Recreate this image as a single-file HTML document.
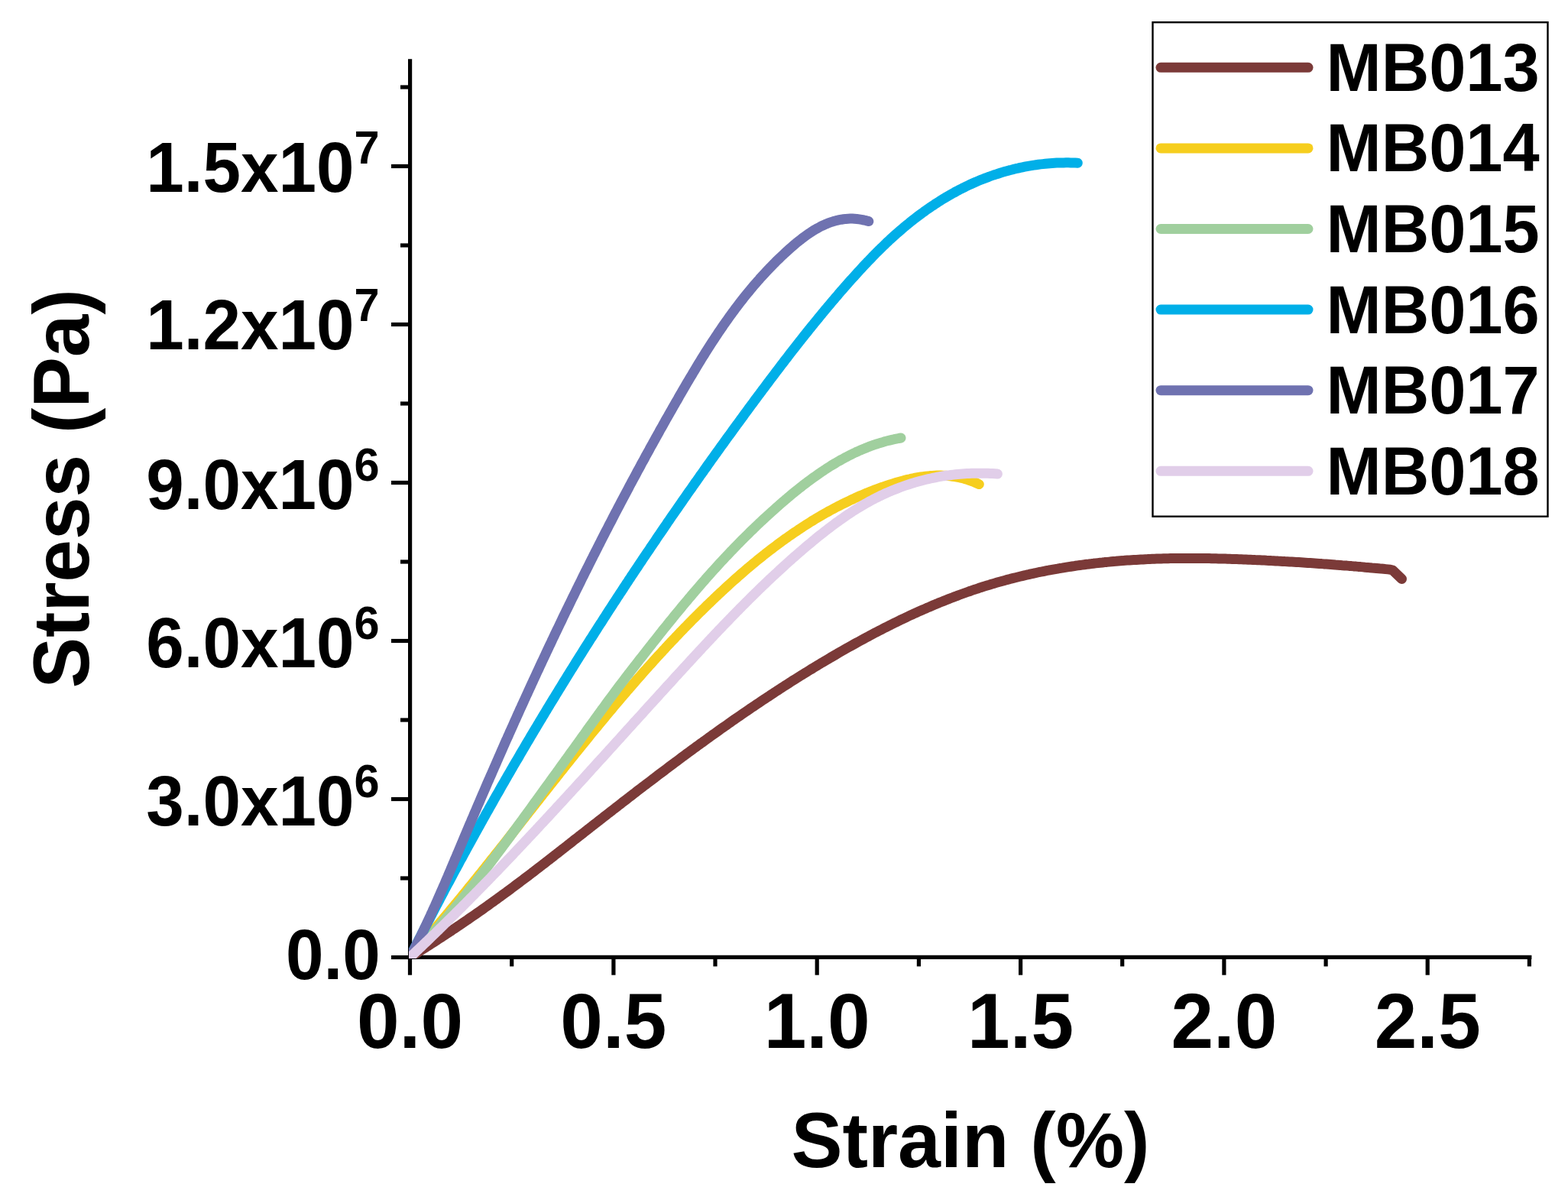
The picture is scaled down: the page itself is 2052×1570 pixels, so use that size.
<!DOCTYPE html>
<html><head><meta charset="utf-8"><style>
html,body{margin:0;padding:0;background:#fff;}
svg{display:block;}
text{font-family:"Liberation Sans",Arial,sans-serif;font-weight:bold;fill:#000;}
</style></head><body>
<svg width="2052" height="1570" viewBox="0 0 2052 1570">
<rect width="2052" height="1570" fill="#fff"/>
<defs><clipPath id="pc"><rect x="535" y="60" width="1480" height="1194"/></clipPath></defs>
<g stroke="#000" stroke-linecap="butt">
<line x1="536.6" y1="77.2" x2="536.6" y2="1255" stroke-width="5.2"/>
<line x1="534" y1="1252.4" x2="2004.4" y2="1252.4" stroke-width="5.2"/>
<line x1="512.0" y1="1252.5" x2="536" y2="1252.5" stroke-width="5.2"/>
<line x1="524.0" y1="1149.0" x2="536" y2="1149.0" stroke-width="5.2"/>
<line x1="512.0" y1="1045.5" x2="536" y2="1045.5" stroke-width="5.2"/>
<line x1="524.0" y1="942.0" x2="536" y2="942.0" stroke-width="5.2"/>
<line x1="512.0" y1="838.5" x2="536" y2="838.5" stroke-width="5.2"/>
<line x1="524.0" y1="735.0" x2="536" y2="735.0" stroke-width="5.2"/>
<line x1="512.0" y1="631.5" x2="536" y2="631.5" stroke-width="5.2"/>
<line x1="524.0" y1="528.0" x2="536" y2="528.0" stroke-width="5.2"/>
<line x1="512.0" y1="424.5" x2="536" y2="424.5" stroke-width="5.2"/>
<line x1="524.0" y1="321.0" x2="536" y2="321.0" stroke-width="5.2"/>
<line x1="512.0" y1="217.5" x2="536" y2="217.5" stroke-width="5.2"/>
<line x1="524.0" y1="114.0" x2="536" y2="114.0" stroke-width="5.2"/>
<line x1="536.5" y1="1253" x2="536.5" y2="1275.7" stroke-width="5.2"/>
<line x1="669.7" y1="1253" x2="669.7" y2="1264.4" stroke-width="5.2"/>
<line x1="802.9" y1="1253" x2="802.9" y2="1275.7" stroke-width="5.2"/>
<line x1="936.0" y1="1253" x2="936.0" y2="1264.4" stroke-width="5.2"/>
<line x1="1069.2" y1="1253" x2="1069.2" y2="1275.7" stroke-width="5.2"/>
<line x1="1202.4" y1="1253" x2="1202.4" y2="1264.4" stroke-width="5.2"/>
<line x1="1335.6" y1="1253" x2="1335.6" y2="1275.7" stroke-width="5.2"/>
<line x1="1468.7" y1="1253" x2="1468.7" y2="1264.4" stroke-width="5.2"/>
<line x1="1601.9" y1="1253" x2="1601.9" y2="1275.7" stroke-width="5.2"/>
<line x1="1735.1" y1="1253" x2="1735.1" y2="1264.4" stroke-width="5.2"/>
<line x1="1868.2" y1="1253" x2="1868.2" y2="1275.7" stroke-width="5.2"/>
<line x1="2001.4" y1="1253" x2="2001.4" y2="1264.4" stroke-width="5.2"/>
</g>
<g clip-path="url(#pc)" fill="none" stroke-width="13" stroke-linecap="round" stroke-linejoin="round">
<path d="M536.5,1252.5 L539.0,1250.9 L541.6,1249.3 L544.1,1247.7 L546.7,1246.1 L549.2,1244.5 L551.7,1242.9 L554.2,1241.3 L556.8,1239.7 L559.3,1238.1 L561.8,1236.5 L564.3,1234.9 L566.8,1233.3 L569.3,1231.7 L571.8,1230.0 L574.3,1228.4 L576.8,1226.8 L579.3,1225.1 L581.8,1223.5 L584.3,1221.9 L586.8,1220.2 L589.3,1218.6 L591.7,1216.9 L594.2,1215.3 L596.7,1213.6 L599.2,1211.9 L601.6,1210.3 L604.1,1208.6 L606.6,1206.9 L609.0,1205.2 L611.5,1203.6 L613.9,1201.9 L616.4,1200.2 L618.8,1198.5 L621.3,1196.8 L623.7,1195.1 L626.2,1193.4 L628.6,1191.7 L631.1,1190.0 L633.5,1188.2 L635.9,1186.5 L638.4,1184.8 L640.8,1183.0 L643.2,1181.3 L645.6,1179.6 L648.1,1177.8 L650.5,1176.1 L652.9,1174.3 L655.3,1172.6 L657.7,1170.8 L660.2,1169.0 L662.6,1167.3 L665.0,1165.5 L667.4,1163.7 L669.8,1161.9 L672.2,1160.1 L674.6,1158.3 L677.0,1156.5 L679.4,1154.7 L681.8,1152.9 L684.2,1151.1 L686.6,1149.3 L689.0,1147.5 L691.4,1145.7 L693.8,1143.9 L696.2,1142.0 L698.6,1140.2 L700.9,1138.4 L703.3,1136.5 L705.7,1134.7 L708.1,1132.9 L710.5,1131.0 L712.9,1129.2 L715.2,1127.4 L717.6,1125.5 L720.0,1123.7 L722.4,1121.8 L724.8,1120.0 L727.1,1118.1 L729.5,1116.3 L731.9,1114.4 L734.2,1112.6 L736.6,1110.7 L739.0,1108.9 L741.4,1107.0 L743.7,1105.2 L746.1,1103.3 L748.5,1101.5 L750.8,1099.6 L753.2,1097.7 L755.6,1095.9 L757.9,1094.0 L760.3,1092.2 L762.7,1090.3 L765.0,1088.5 L767.4,1086.6 L769.8,1084.8 L772.1,1082.9 L774.5,1081.1 L776.8,1079.2 L779.2,1077.4 L781.6,1075.6 L783.9,1073.7 L786.3,1071.9 L788.7,1070.0 L791.0,1068.2 L793.4,1066.3 L795.7,1064.5 L798.1,1062.7 L800.5,1060.8 L802.8,1059.0 L805.2,1057.2 L807.6,1055.3 L809.9,1053.5 L812.3,1051.7 L814.6,1049.8 L817.0,1048.0 L819.4,1046.2 L821.7,1044.4 L824.1,1042.5 L826.5,1040.7 L828.8,1038.9 L831.2,1037.1 L833.6,1035.2 L835.9,1033.4 L838.3,1031.6 L840.7,1029.8 L843.0,1028.0 L845.4,1026.2 L847.8,1024.4 L850.2,1022.6 L852.5,1020.8 L854.9,1019.0 L857.3,1017.2 L859.7,1015.3 L862.0,1013.6 L864.4,1011.8 L866.8,1010.0 L869.2,1008.2 L871.6,1006.4 L873.9,1004.6 L876.3,1002.8 L878.7,1001.0 L881.1,999.2 L883.5,997.4 L885.9,995.7 L888.3,993.9 L890.6,992.1 L893.0,990.3 L895.4,988.6 L897.8,986.8 L900.2,985.0 L902.6,983.3 L905.0,981.5 L907.4,979.7 L909.8,978.0 L912.2,976.2 L914.6,974.5 L917.0,972.7 L919.5,971.0 L921.9,969.2 L924.3,967.5 L926.7,965.8 L929.1,964.0 L931.5,962.3 L933.9,960.5 L936.4,958.8 L938.8,957.1 L941.2,955.4 L943.7,953.6 L946.1,951.9 L948.5,950.2 L951.0,948.5 L953.4,946.8 L955.8,945.1 L958.3,943.3 L960.7,941.6 L963.2,939.9 L965.6,938.2 L968.1,936.5 L970.5,934.9 L973.0,933.2 L975.4,931.5 L977.9,929.8 L980.4,928.1 L982.8,926.4 L985.3,924.8 L987.8,923.1 L990.3,921.4 L992.7,919.8 L995.2,918.1 L997.7,916.4 L1000.2,914.8 L1002.7,913.1 L1005.2,911.5 L1007.7,909.8 L1010.2,908.2 L1012.7,906.5 L1015.2,904.9 L1017.7,903.3 L1020.2,901.6 L1022.7,900.0 L1025.2,898.4 L1027.7,896.8 L1030.3,895.2 L1032.8,893.5 L1035.3,891.9 L1037.8,890.3 L1040.4,888.7 L1042.9,887.1 L1045.5,885.5 L1048.0,883.9 L1050.6,882.4 L1053.1,880.8 L1055.7,879.2 L1058.2,877.6 L1060.8,876.0 L1063.4,874.5 L1065.9,872.9 L1068.5,871.4 L1071.1,869.8 L1073.7,868.2 L1076.3,866.7 L1078.9,865.1 L1081.5,863.6 L1084.1,862.1 L1086.7,860.5 L1089.3,859.0 L1091.9,857.5 L1094.5,856.0 L1097.1,854.4 L1099.7,852.9 L1102.4,851.4 L1105.0,849.9 L1107.6,848.4 L1110.3,846.9 L1112.9,845.5 L1115.6,844.0 L1118.2,842.5 L1120.9,841.0 L1123.5,839.6 L1126.2,838.1 L1128.8,836.7 L1131.5,835.2 L1134.2,833.8 L1136.9,832.4 L1139.5,830.9 L1142.2,829.5 L1144.9,828.1 L1147.6,826.7 L1150.3,825.3 L1153.0,823.9 L1155.7,822.5 L1158.4,821.1 L1161.1,819.8 L1163.8,818.4 L1166.5,817.1 L1169.2,815.7 L1172.0,814.4 L1174.7,813.1 L1177.4,811.7 L1180.1,810.4 L1182.9,809.1 L1185.6,807.8 L1188.3,806.5 L1191.1,805.2 L1193.8,804.0 L1196.6,802.7 L1199.3,801.5 L1202.1,800.2 L1204.8,799.0 L1207.6,797.8 L1210.4,796.6 L1213.1,795.3 L1215.9,794.2 L1218.7,793.0 L1221.4,791.8 L1224.2,790.6 L1227.0,789.5 L1229.8,788.3 L1232.6,787.2 L1235.4,786.1 L1238.2,785.0 L1241.0,783.9 L1243.8,782.8 L1246.6,781.7 L1249.4,780.6 L1252.2,779.6 L1255.0,778.5 L1257.8,777.5 L1260.6,776.5 L1263.4,775.5 L1266.2,774.5 L1269.1,773.5 L1271.9,772.5 L1274.7,771.5 L1277.6,770.6 L1280.4,769.7 L1283.2,768.7 L1286.1,767.8 L1288.9,766.9 L1291.8,766.0 L1294.6,765.2 L1297.5,764.3 L1300.3,763.5 L1303.2,762.6 L1306.0,761.8 L1308.9,761.0 L1311.7,760.2 L1314.6,759.4 L1317.5,758.6 L1320.3,757.9 L1323.2,757.1 L1326.1,756.4 L1328.9,755.7 L1331.8,755.0 L1334.7,754.3 L1337.6,753.6 L1340.5,752.9 L1343.4,752.2 L1346.2,751.6 L1349.1,750.9 L1352.0,750.3 L1354.9,749.7 L1357.8,749.0 L1360.7,748.4 L1363.6,747.9 L1366.5,747.3 L1369.4,746.7 L1372.3,746.2 L1375.2,745.6 L1378.1,745.1 L1381.1,744.6 L1384.0,744.1 L1386.9,743.5 L1389.8,743.1 L1392.7,742.6 L1395.6,742.1 L1398.6,741.6 L1401.5,741.2 L1404.4,740.8 L1407.3,740.3 L1410.3,739.9 L1413.2,739.5 L1416.1,739.1 L1419.1,738.7 L1422.0,738.3 L1424.9,738.0 L1427.9,737.6 L1430.8,737.3 L1433.8,736.9 L1436.7,736.6 L1439.7,736.3 L1442.6,736.0 L1445.6,735.6 L1448.5,735.4 L1451.5,735.1 L1454.4,734.8 L1457.4,734.5 L1460.3,734.3 L1463.3,734.0 L1466.2,733.8 L1469.2,733.6 L1472.2,733.3 L1475.1,733.1 L1478.1,732.9 L1481.0,732.7 L1484.0,732.5 L1487.0,732.4 L1490.0,732.2 L1492.9,732.0 L1495.9,731.9 L1498.9,731.7 L1501.8,731.6 L1504.8,731.4 L1507.8,731.3 L1510.8,731.2 L1513.7,731.1 L1516.7,731.0 L1519.7,730.9 L1522.7,730.8 L1525.7,730.8 L1528.6,730.7 L1531.6,730.6 L1534.6,730.6 L1537.6,730.5 L1540.6,730.5 L1543.6,730.5 L1546.6,730.4 L1549.5,730.4 L1552.5,730.4 L1555.5,730.4 L1558.5,730.4 L1561.5,730.4 L1564.5,730.4 L1567.5,730.4 L1570.5,730.5 L1573.5,730.5 L1576.5,730.5 L1579.5,730.6 L1582.5,730.6 L1585.5,730.7 L1588.5,730.7 L1591.5,730.8 L1594.5,730.9 L1597.5,730.9 L1600.5,731.0 L1603.5,731.1 L1606.5,731.2 L1609.5,731.3 L1612.5,731.4 L1615.5,731.5 L1618.5,731.6 L1621.5,731.7 L1624.5,731.8 L1627.5,731.9 L1630.5,732.0 L1633.5,732.2 L1636.5,732.3 L1639.5,732.4 L1642.5,732.6 L1645.5,732.7 L1648.5,732.8 L1651.5,733.0 L1654.5,733.1 L1657.5,733.3 L1660.5,733.4 L1663.5,733.6 L1666.5,733.7 L1669.5,733.9 L1672.5,734.1 L1675.5,734.2 L1678.5,734.4 L1681.5,734.6 L1684.6,734.7 L1687.6,734.9 L1690.6,735.1 L1693.6,735.3 L1696.6,735.5 L1699.6,735.6 L1702.6,735.8 L1705.6,736.0 L1708.6,736.2 L1711.6,736.4 L1714.6,736.6 L1717.6,736.8 L1720.6,737.0 L1723.6,737.2 L1726.6,737.4 L1729.6,737.6 L1732.6,737.9 L1735.6,738.1 L1738.6,738.3 L1741.6,738.5 L1744.6,738.7 L1747.6,739.0 L1750.6,739.2 L1753.6,739.4 L1756.6,739.7 L1759.6,739.9 L1762.6,740.1 L1765.6,740.4 L1768.6,740.6 L1771.6,740.9 L1774.6,741.1 L1777.6,741.4 L1780.6,741.6 L1783.6,741.9 L1786.5,742.2 L1789.5,742.4 L1792.5,742.7 L1795.5,743.0 L1798.5,743.2 L1801.5,743.5 L1804.5,743.8 L1807.5,744.1 L1810.5,744.3 L1813.4,744.6 L1816.4,744.9 L1819.4,745.2 L1822.5,746.0 L1834.5,757.5" stroke="#7B3A38"/>
<path d="M536.5,1252.5 L538.5,1250.3 L540.5,1248.0 L542.5,1245.8 L544.5,1243.5 L546.5,1241.2 L548.4,1239.0 L550.4,1236.7 L552.4,1234.5 L554.4,1232.2 L556.3,1229.9 L558.3,1227.7 L560.3,1225.4 L562.2,1223.1 L564.2,1220.8 L566.1,1218.6 L568.1,1216.3 L570.0,1214.0 L572.0,1211.7 L573.9,1209.4 L575.8,1207.1 L577.8,1204.8 L579.7,1202.5 L581.6,1200.2 L583.5,1197.9 L585.5,1195.6 L587.4,1193.3 L589.3,1191.0 L591.2,1188.7 L593.1,1186.4 L595.0,1184.1 L597.0,1181.8 L598.9,1179.5 L600.8,1177.2 L602.7,1174.9 L604.6,1172.5 L606.5,1170.2 L608.4,1167.9 L610.3,1165.6 L612.1,1163.3 L614.0,1160.9 L615.9,1158.6 L617.8,1156.3 L619.7,1154.0 L621.6,1151.6 L623.5,1149.3 L625.3,1147.0 L627.2,1144.6 L629.1,1142.3 L631.0,1140.0 L632.8,1137.6 L634.7,1135.3 L636.6,1133.0 L638.4,1130.6 L640.3,1128.3 L642.2,1125.9 L644.0,1123.6 L645.9,1121.3 L647.8,1118.9 L649.6,1116.6 L651.5,1114.2 L653.3,1111.9 L655.2,1109.5 L657.1,1107.2 L658.9,1104.9 L660.8,1102.5 L662.6,1100.2 L664.5,1097.8 L666.3,1095.5 L668.2,1093.1 L670.0,1090.8 L671.9,1088.4 L673.7,1086.1 L675.6,1083.7 L677.4,1081.4 L679.3,1079.0 L681.1,1076.7 L683.0,1074.3 L684.8,1072.0 L686.7,1069.6 L688.5,1067.3 L690.4,1064.9 L692.2,1062.6 L694.1,1060.2 L695.9,1057.9 L697.8,1055.5 L699.6,1053.2 L701.5,1050.8 L703.3,1048.5 L705.2,1046.1 L707.0,1043.8 L708.9,1041.4 L710.7,1039.1 L712.6,1036.7 L714.4,1034.4 L716.3,1032.0 L718.1,1029.7 L720.0,1027.3 L721.8,1025.0 L723.7,1022.7 L725.5,1020.3 L727.4,1018.0 L729.2,1015.6 L731.1,1013.3 L732.9,1010.9 L734.8,1008.6 L736.7,1006.3 L738.5,1003.9 L740.4,1001.6 L742.2,999.3 L744.1,996.9 L746.0,994.6 L747.8,992.3 L749.7,989.9 L751.6,987.6 L753.4,985.3 L755.3,982.9 L757.2,980.6 L759.1,978.3 L760.9,976.0 L762.8,973.6 L764.7,971.3 L766.6,969.0 L768.5,966.7 L770.3,964.4 L772.2,962.0 L774.1,959.7 L776.0,957.4 L777.9,955.1 L779.8,952.8 L781.7,950.5 L783.6,948.2 L785.5,945.9 L787.4,943.6 L789.3,941.3 L791.2,939.0 L793.1,936.7 L795.0,934.4 L796.9,932.1 L798.9,929.8 L800.8,927.5 L802.7,925.2 L804.6,922.9 L806.5,920.6 L808.5,918.4 L810.4,916.1 L812.3,913.8 L814.3,911.5 L816.2,909.3 L818.2,907.0 L820.1,904.7 L822.1,902.5 L824.0,900.2 L826.0,897.9 L827.9,895.7 L829.9,893.4 L831.9,891.2 L833.8,888.9 L835.8,886.7 L837.8,884.4 L839.8,882.2 L841.7,879.9 L843.7,877.7 L845.7,875.5 L847.7,873.2 L849.7,871.0 L851.7,868.8 L853.7,866.6 L855.7,864.3 L857.7,862.1 L859.7,859.9 L861.7,857.7 L863.8,855.5 L865.8,853.3 L867.8,851.1 L869.9,848.9 L871.9,846.7 L873.9,844.5 L876.0,842.3 L878.0,840.1 L880.1,837.9 L882.2,835.8 L884.2,833.6 L886.3,831.4 L888.4,829.2 L890.4,827.1 L892.5,824.9 L894.6,822.8 L896.7,820.6 L898.8,818.5 L900.9,816.3 L903.0,814.2 L905.1,812.0 L907.2,809.9 L909.3,807.8 L911.5,805.6 L913.6,803.5 L915.7,801.4 L917.9,799.3 L920.0,797.2 L922.2,795.1 L924.3,792.9 L926.5,790.9 L928.7,788.8 L930.8,786.7 L933.0,784.6 L935.2,782.5 L937.4,780.4 L939.6,778.4 L941.8,776.3 L944.0,774.2 L946.2,772.2 L948.4,770.1 L950.6,768.1 L952.8,766.1 L955.1,764.0 L957.3,762.0 L959.5,760.0 L961.8,758.0 L964.1,756.0 L966.3,754.0 L968.6,752.0 L970.9,750.0 L973.1,748.1 L975.4,746.1 L977.7,744.1 L980.0,742.2 L982.3,740.3 L984.6,738.3 L986.9,736.4 L989.3,734.5 L991.6,732.6 L993.9,730.7 L996.3,728.8 L998.6,726.9 L1001.0,725.1 L1003.3,723.2 L1005.7,721.4 L1008.1,719.5 L1010.5,717.7 L1012.9,715.9 L1015.3,714.1 L1017.7,712.3 L1020.1,710.5 L1022.5,708.7 L1024.9,707.0 L1027.3,705.2 L1029.8,703.5 L1032.2,701.8 L1034.7,700.1 L1037.1,698.4 L1039.6,696.7 L1042.1,695.0 L1044.6,693.3 L1047.1,691.7 L1049.6,690.0 L1052.1,688.4 L1054.6,686.8 L1057.1,685.2 L1059.6,683.6 L1062.1,682.0 L1064.7,680.5 L1067.2,678.9 L1069.8,677.4 L1072.4,675.9 L1074.9,674.4 L1077.5,672.9 L1080.1,671.4 L1082.7,670.0 L1085.3,668.5 L1087.9,667.1 L1090.5,665.7 L1093.2,664.3 L1095.8,662.9 L1098.4,661.6 L1101.1,660.2 L1103.8,658.9 L1106.4,657.6 L1109.1,656.3 L1111.8,655.0 L1114.5,653.7 L1117.2,652.5 L1119.9,651.2 L1122.6,650.0 L1125.3,648.8 L1128.1,647.6 L1130.8,646.5 L1133.6,645.3 L1136.3,644.2 L1139.1,643.1 L1141.9,642.0 L1144.7,640.9 L1147.5,639.9 L1150.3,638.9 L1153.1,637.8 L1155.9,636.9 L1158.8,635.9 L1161.6,634.9 L1164.5,634.0 L1167.3,633.1 L1170.2,632.2 L1173.1,631.3 L1176.0,630.5 L1178.8,629.7 L1181.7,628.9 L1184.7,628.1 L1187.6,627.4 L1190.5,626.8 L1193.4,626.1 L1196.3,625.5 L1199.3,625.0 L1202.2,624.5 L1205.1,624.0 L1208.1,623.6 L1211.0,623.2 L1214.0,622.9 L1216.9,622.6 L1219.8,622.4 L1222.8,622.2 L1225.7,622.1 L1228.7,622.1 L1231.6,622.1 L1234.6,622.2 L1237.5,622.3 L1240.5,622.5 L1243.4,622.8 L1246.4,623.2 L1249.3,623.6 L1252.2,624.1 L1255.2,624.7 L1258.1,625.3 L1261.0,626.1 L1263.9,626.9 L1266.8,627.8 L1269.7,628.8 L1272.6,629.8 L1275.5,631.0 L1278.4,632.3 L1281.3,633.6" stroke="#F6CE1E"/>
<path d="M536.5,1252.5 L538.6,1250.4 L540.7,1248.2 L542.8,1246.1 L544.9,1243.9 L546.9,1241.8 L549.0,1239.6 L551.1,1237.5 L553.1,1235.3 L555.2,1233.1 L557.2,1230.9 L559.2,1228.7 L561.3,1226.5 L563.3,1224.3 L565.3,1222.1 L567.3,1219.9 L569.3,1217.7 L571.3,1215.4 L573.3,1213.2 L575.2,1211.0 L577.2,1208.7 L579.2,1206.5 L581.1,1204.2 L583.1,1201.9 L585.0,1199.7 L587.0,1197.4 L588.9,1195.1 L590.8,1192.8 L592.8,1190.6 L594.7,1188.3 L596.6,1186.0 L598.5,1183.7 L600.4,1181.4 L602.3,1179.1 L604.2,1176.7 L606.1,1174.4 L608.0,1172.1 L609.9,1169.8 L611.7,1167.4 L613.6,1165.1 L615.5,1162.8 L617.3,1160.4 L619.2,1158.1 L621.1,1155.7 L622.9,1153.4 L624.7,1151.0 L626.6,1148.7 L628.4,1146.3 L630.3,1143.9 L632.1,1141.6 L633.9,1139.2 L635.7,1136.8 L637.6,1134.4 L639.4,1132.1 L641.2,1129.7 L643.0,1127.3 L644.8,1124.9 L646.6,1122.5 L648.4,1120.1 L650.2,1117.7 L652.0,1115.3 L653.8,1112.9 L655.6,1110.5 L657.4,1108.1 L659.2,1105.7 L661.0,1103.3 L662.7,1100.9 L664.5,1098.5 L666.3,1096.1 L668.1,1093.6 L669.9,1091.2 L671.6,1088.8 L673.4,1086.4 L675.2,1084.0 L676.9,1081.6 L678.7,1079.1 L680.5,1076.7 L682.2,1074.3 L684.0,1071.9 L685.8,1069.4 L687.5,1067.0 L689.3,1064.6 L691.0,1062.2 L692.8,1059.7 L694.6,1057.3 L696.3,1054.9 L698.1,1052.5 L699.8,1050.0 L701.6,1047.6 L703.4,1045.2 L705.1,1042.8 L706.9,1040.3 L708.6,1037.9 L710.4,1035.5 L712.1,1033.1 L713.9,1030.6 L715.7,1028.2 L717.4,1025.8 L719.2,1023.4 L720.9,1020.9 L722.7,1018.5 L724.4,1016.1 L726.2,1013.7 L728.0,1011.2 L729.7,1008.8 L731.5,1006.4 L733.2,1003.9 L735.0,1001.5 L736.7,999.1 L738.5,996.7 L740.2,994.2 L742.0,991.8 L743.7,989.4 L745.5,986.9 L747.2,984.5 L749.0,982.1 L750.7,979.7 L752.5,977.2 L754.2,974.8 L756.0,972.4 L757.7,970.0 L759.5,967.5 L761.2,965.1 L762.9,962.7 L764.7,960.3 L766.4,957.9 L768.1,955.4 L769.9,953.0 L771.6,950.6 L773.3,948.2 L775.1,945.8 L776.8,943.4 L778.5,941.0 L780.3,938.6 L782.0,936.2 L783.7,933.8 L785.5,931.4 L787.2,929.0 L789.0,926.6 L790.7,924.3 L792.4,921.9 L794.2,919.5 L795.9,917.1 L797.7,914.7 L799.5,912.3 L801.2,910.0 L803.0,907.6 L804.8,905.2 L806.5,902.8 L808.3,900.4 L810.1,898.1 L811.9,895.7 L813.7,893.3 L815.5,891.0 L817.3,888.6 L819.1,886.2 L820.9,883.8 L822.8,881.5 L824.6,879.1 L826.4,876.8 L828.3,874.4 L830.1,872.0 L831.9,869.7 L833.8,867.3 L835.6,864.9 L837.4,862.6 L839.3,860.2 L841.1,857.9 L843.0,855.5 L844.8,853.2 L846.7,850.8 L848.5,848.5 L850.3,846.1 L852.2,843.8 L854.0,841.4 L855.9,839.1 L857.8,836.7 L859.6,834.4 L861.5,832.0 L863.3,829.7 L865.2,827.4 L867.0,825.0 L868.9,822.7 L870.8,820.4 L872.7,818.1 L874.5,815.8 L876.4,813.4 L878.3,811.1 L880.2,808.8 L882.0,806.5 L883.9,804.2 L885.8,801.9 L887.7,799.6 L889.6,797.3 L891.5,795.0 L893.4,792.7 L895.3,790.4 L897.2,788.1 L899.1,785.9 L901.0,783.6 L903.0,781.3 L904.9,779.0 L906.8,776.8 L908.7,774.5 L910.7,772.2 L912.6,770.0 L914.6,767.7 L916.5,765.5 L918.4,763.3 L920.4,761.0 L922.4,758.8 L924.3,756.6 L926.3,754.3 L928.3,752.1 L930.2,749.9 L932.2,747.7 L934.2,745.5 L936.2,743.3 L938.2,741.1 L940.2,738.9 L942.2,736.7 L944.2,734.5 L946.3,732.4 L948.3,730.2 L950.3,728.0 L952.3,725.9 L954.4,723.7 L956.4,721.6 L958.5,719.4 L960.5,717.3 L962.6,715.2 L964.7,713.0 L966.8,710.9 L968.8,708.8 L970.9,706.7 L973.0,704.6 L975.1,702.5 L977.3,700.4 L979.4,698.3 L981.5,696.2 L983.6,694.1 L985.8,692.1 L987.9,690.0 L990.1,687.9 L992.2,685.9 L994.4,683.8 L996.6,681.8 L998.7,679.8 L1000.9,677.7 L1003.1,675.7 L1005.3,673.7 L1007.5,671.7 L1009.8,669.7 L1012.0,667.7 L1014.2,665.7 L1016.5,663.7 L1018.7,661.7 L1021.0,659.7 L1023.2,657.7 L1025.5,655.8 L1027.8,653.8 L1030.1,651.9 L1032.4,649.9 L1034.7,648.0 L1037.0,646.1 L1039.4,644.2 L1041.7,642.3 L1044.0,640.4 L1046.4,638.5 L1048.8,636.7 L1051.1,634.8 L1053.5,633.0 L1055.9,631.2 L1058.3,629.3 L1060.8,627.6 L1063.2,625.8 L1065.6,624.0 L1068.1,622.3 L1070.5,620.6 L1073.0,618.9 L1075.5,617.2 L1078.0,615.5 L1080.5,613.9 L1083.0,612.2 L1085.5,610.6 L1088.0,609.0 L1090.6,607.5 L1093.2,606.0 L1095.7,604.4 L1098.3,603.0 L1100.9,601.5 L1103.5,600.1 L1106.1,598.6 L1108.8,597.3 L1111.4,595.9 L1114.1,594.6 L1116.7,593.3 L1119.4,592.0 L1122.1,590.8 L1124.8,589.5 L1127.6,588.4 L1130.3,587.2 L1133.1,586.1 L1135.8,585.0 L1138.6,583.9 L1141.4,582.9 L1144.2,581.9 L1147.0,581.0 L1149.8,580.1 L1152.7,579.2 L1155.6,578.4 L1158.4,577.5 L1161.3,576.8 L1164.2,576.1 L1167.2,575.4 L1170.1,574.7 L1173.0,574.1 L1176.0,573.5 L1179.0,573.0" stroke="#A0CF9E"/>
<path d="M536.5,1252.5 L537.8,1249.8 L539.2,1247.1 L540.5,1244.5 L541.9,1241.8 L543.2,1239.1 L544.6,1236.5 L545.9,1233.8 L547.3,1231.1 L548.6,1228.4 L550.0,1225.8 L551.4,1223.1 L552.7,1220.4 L554.1,1217.8 L555.4,1215.1 L556.8,1212.4 L558.2,1209.8 L559.6,1207.1 L560.9,1204.4 L562.3,1201.8 L563.7,1199.1 L565.1,1196.5 L566.4,1193.8 L567.8,1191.2 L569.2,1188.5 L570.6,1185.8 L572.0,1183.2 L573.4,1180.5 L574.8,1177.9 L576.1,1175.2 L577.5,1172.6 L578.9,1169.9 L580.3,1167.3 L581.7,1164.6 L583.1,1162.0 L584.5,1159.3 L585.9,1156.7 L587.4,1154.0 L588.8,1151.4 L590.2,1148.7 L591.6,1146.1 L593.0,1143.5 L594.4,1140.8 L595.8,1138.2 L597.3,1135.5 L598.7,1132.9 L600.1,1130.3 L601.5,1127.6 L602.9,1125.0 L604.4,1122.4 L605.8,1119.7 L607.2,1117.1 L608.7,1114.5 L610.1,1111.8 L611.5,1109.2 L613.0,1106.6 L614.4,1103.9 L615.9,1101.3 L617.3,1098.7 L618.8,1096.1 L620.2,1093.4 L621.6,1090.8 L623.1,1088.2 L624.6,1085.6 L626.0,1082.9 L627.5,1080.3 L628.9,1077.7 L630.4,1075.1 L631.8,1072.5 L633.3,1069.8 L634.8,1067.2 L636.2,1064.6 L637.7,1062.0 L639.2,1059.4 L640.6,1056.8 L642.1,1054.2 L643.6,1051.5 L645.1,1048.9 L646.5,1046.3 L648.0,1043.7 L649.5,1041.1 L651.0,1038.5 L652.5,1035.9 L654.0,1033.3 L655.4,1030.7 L656.9,1028.1 L658.4,1025.5 L659.9,1022.9 L661.4,1020.3 L662.9,1017.7 L664.4,1015.1 L665.9,1012.5 L667.4,1009.9 L668.9,1007.3 L670.4,1004.7 L671.9,1002.1 L673.4,999.5 L674.9,996.9 L676.5,994.3 L678.0,991.8 L679.5,989.2 L681.0,986.6 L682.5,984.0 L684.0,981.4 L685.6,978.8 L687.1,976.2 L688.6,973.7 L690.1,971.1 L691.7,968.5 L693.2,965.9 L694.7,963.3 L696.2,960.8 L697.8,958.2 L699.3,955.6 L700.9,953.0 L702.4,950.5 L703.9,947.9 L705.5,945.3 L707.0,942.7 L708.6,940.2 L710.1,937.6 L711.7,935.0 L713.2,932.5 L714.8,929.9 L716.3,927.3 L717.9,924.8 L719.4,922.2 L721.0,919.6 L722.5,917.1 L724.1,914.5 L725.7,912.0 L727.2,909.4 L728.8,906.8 L730.4,904.3 L731.9,901.7 L733.5,899.2 L735.1,896.6 L736.6,894.1 L738.2,891.5 L739.8,889.0 L741.4,886.4 L742.9,883.9 L744.5,881.3 L746.1,878.8 L747.7,876.2 L749.3,873.7 L750.9,871.1 L752.5,868.6 L754.0,866.0 L755.6,863.5 L757.2,861.0 L758.8,858.4 L760.4,855.9 L762.0,853.3 L763.6,850.8 L765.2,848.3 L766.8,845.7 L768.4,843.2 L770.0,840.7 L771.6,838.1 L773.2,835.6 L774.9,833.1 L776.5,830.5 L778.1,828.0 L779.7,825.5 L781.3,823.0 L782.9,820.4 L784.5,817.9 L786.2,815.4 L787.8,812.9 L789.4,810.3 L791.0,807.8 L792.7,805.3 L794.3,802.8 L795.9,800.3 L797.5,797.8 L799.2,795.2 L800.8,792.7 L802.4,790.2 L804.1,787.7 L805.7,785.2 L807.3,782.7 L809.0,780.2 L810.6,777.7 L812.3,775.2 L813.9,772.7 L815.6,770.1 L817.2,767.6 L818.9,765.1 L820.5,762.6 L822.2,760.1 L823.8,757.6 L825.5,755.1 L827.1,752.6 L828.8,750.1 L830.4,747.7 L832.1,745.2 L833.8,742.7 L835.4,740.2 L837.1,737.7 L838.8,735.2 L840.4,732.7 L842.1,730.2 L843.8,727.7 L845.4,725.2 L847.1,722.8 L848.8,720.3 L850.5,717.8 L852.1,715.3 L853.8,712.8 L855.5,710.3 L857.2,707.9 L858.8,705.4 L860.5,702.9 L862.2,700.4 L863.9,698.0 L865.6,695.5 L867.3,693.0 L869.0,690.5 L870.7,688.1 L872.4,685.6 L874.0,683.1 L875.7,680.7 L877.4,678.2 L879.1,675.7 L880.8,673.3 L882.5,670.8 L884.2,668.3 L885.9,665.9 L887.7,663.4 L889.4,660.9 L891.1,658.5 L892.8,656.0 L894.5,653.6 L896.2,651.1 L897.9,648.7 L899.6,646.2 L901.3,643.8 L903.1,641.3 L904.8,638.9 L906.5,636.4 L908.2,634.0 L909.9,631.5 L911.7,629.1 L913.4,626.6 L915.1,624.2 L916.8,621.7 L918.6,619.3 L920.3,616.9 L922.0,614.4 L923.8,612.0 L925.5,609.5 L927.2,607.1 L929.0,604.7 L930.7,602.2 L932.4,599.8 L934.2,597.4 L935.9,594.9 L937.7,592.5 L939.4,590.1 L941.2,587.7 L942.9,585.2 L944.6,582.8 L946.4,580.4 L948.1,578.0 L949.9,575.5 L951.6,573.1 L953.4,570.7 L955.2,568.3 L956.9,565.9 L958.7,563.4 L960.4,561.0 L962.2,558.6 L963.9,556.2 L965.7,553.8 L967.5,551.4 L969.2,549.0 L971.0,546.6 L972.8,544.1 L974.5,541.7 L976.3,539.3 L978.1,536.9 L979.8,534.5 L981.6,532.1 L983.4,529.7 L985.2,527.3 L986.9,524.9 L988.7,522.5 L990.5,520.1 L992.3,517.7 L994.1,515.3 L995.9,512.9 L997.6,510.5 L999.4,508.2 L1001.2,505.8 L1003.0,503.4 L1004.8,501.0 L1006.6,498.6 L1008.4,496.2 L1010.2,493.8 L1012.0,491.5 L1013.8,489.1 L1015.6,486.7 L1017.4,484.3 L1019.2,482.0 L1021.0,479.6 L1022.8,477.2 L1024.6,474.9 L1026.4,472.5 L1028.2,470.1 L1030.1,467.8 L1031.9,465.4 L1033.7,463.1 L1035.5,460.7 L1037.4,458.3 L1039.2,456.0 L1041.0,453.7 L1042.9,451.3 L1044.7,449.0 L1046.5,446.6 L1048.4,444.3 L1050.2,442.0 L1052.1,439.6 L1053.9,437.3 L1055.8,435.0 L1057.7,432.6 L1059.5,430.3 L1061.4,428.0 L1063.3,425.7 L1065.1,423.4 L1067.0,421.1 L1068.9,418.8 L1070.8,416.5 L1072.7,414.2 L1074.6,411.9 L1076.4,409.6 L1078.3,407.3 L1080.2,405.0 L1082.2,402.7 L1084.1,400.4 L1086.0,398.2 L1087.9,395.9 L1089.8,393.6 L1091.7,391.4 L1093.7,389.1 L1095.6,386.9 L1097.5,384.6 L1099.5,382.3 L1101.4,380.1 L1103.4,377.9 L1105.3,375.6 L1107.3,373.4 L1109.3,371.2 L1111.2,368.9 L1113.2,366.7 L1115.2,364.5 L1117.2,362.3 L1119.2,360.1 L1121.2,357.9 L1123.2,355.7 L1125.2,353.5 L1127.2,351.3 L1129.2,349.1 L1131.2,347.0 L1133.3,344.8 L1135.3,342.6 L1137.4,340.5 L1139.4,338.4 L1141.5,336.2 L1143.6,334.1 L1145.6,332.0 L1147.7,329.9 L1149.8,327.8 L1152.0,325.7 L1154.1,323.6 L1156.2,321.6 L1158.4,319.5 L1160.5,317.4 L1162.7,315.4 L1164.8,313.4 L1167.0,311.4 L1169.2,309.4 L1171.4,307.4 L1173.7,305.4 L1175.9,303.5 L1178.2,301.5 L1180.4,299.6 L1182.7,297.6 L1185.0,295.7 L1187.3,293.8 L1189.6,292.0 L1191.9,290.1 L1194.2,288.2 L1196.6,286.4 L1198.9,284.6 L1201.3,282.8 L1203.7,281.0 L1206.1,279.2 L1208.5,277.5 L1210.9,275.7 L1213.3,274.0 L1215.8,272.3 L1218.2,270.6 L1220.7,269.0 L1223.2,267.3 L1225.7,265.7 L1228.2,264.1 L1230.7,262.5 L1233.2,260.9 L1235.8,259.4 L1238.3,257.9 L1240.9,256.4 L1243.5,254.9 L1246.1,253.4 L1248.7,252.0 L1251.3,250.5 L1253.9,249.1 L1256.5,247.8 L1259.2,246.4 L1261.9,245.1 L1264.5,243.8 L1267.2,242.5 L1269.9,241.2 L1272.6,240.0 L1275.4,238.8 L1278.1,237.6 L1280.9,236.4 L1283.6,235.3 L1286.4,234.2 L1289.2,233.1 L1292.0,232.1 L1294.8,231.0 L1297.6,230.0 L1300.4,229.0 L1303.3,228.1 L1306.1,227.2 L1309.0,226.3 L1311.8,225.4 L1314.7,224.5 L1317.6,223.7 L1320.5,222.9 L1323.4,222.2 L1326.3,221.4 L1329.2,220.7 L1332.2,220.1 L1335.1,219.4 L1338.0,218.8 L1341.0,218.2 L1343.9,217.6 L1346.9,217.1 L1349.9,216.6 L1352.9,216.1 L1355.8,215.7 L1358.8,215.3 L1361.8,214.9 L1364.8,214.6 L1367.8,214.3 L1370.8,214.0 L1373.8,213.7 L1376.9,213.5 L1379.9,213.3 L1382.9,213.1 L1385.9,213.0 L1389.0,212.9 L1392.0,212.9 L1395.1,212.8 L1398.1,212.8 L1401.1,212.9 L1404.2,213.0 L1407.2,213.1 L1410.3,213.2" stroke="#00AFE8"/>
<path d="M536.5,1252.5 L537.9,1249.8 L539.3,1247.1 L540.7,1244.4 L542.1,1241.7 L543.5,1238.9 L544.9,1236.2 L546.2,1233.5 L547.6,1230.8 L548.9,1228.1 L550.3,1225.4 L551.6,1222.7 L552.9,1219.9 L554.2,1217.2 L555.5,1214.5 L556.8,1211.8 L558.1,1209.1 L559.4,1206.3 L560.7,1203.6 L561.9,1200.9 L563.2,1198.2 L564.4,1195.4 L565.7,1192.7 L566.9,1190.0 L568.1,1187.3 L569.4,1184.6 L570.6,1181.8 L571.8,1179.1 L573.0,1176.4 L574.2,1173.6 L575.4,1170.9 L576.6,1168.2 L577.8,1165.5 L579.0,1162.7 L580.2,1160.0 L581.4,1157.3 L582.6,1154.5 L583.7,1151.8 L584.9,1149.1 L586.1,1146.4 L587.2,1143.6 L588.4,1140.9 L589.6,1138.2 L590.7,1135.4 L591.9,1132.7 L593.0,1130.0 L594.2,1127.2 L595.3,1124.5 L596.5,1121.8 L597.7,1119.0 L598.8,1116.3 L600.0,1113.6 L601.1,1110.8 L602.3,1108.1 L603.4,1105.3 L604.6,1102.6 L605.7,1099.9 L606.9,1097.1 L608.0,1094.4 L609.2,1091.7 L610.4,1088.9 L611.5,1086.2 L612.7,1083.5 L613.8,1080.7 L615.0,1078.0 L616.2,1075.2 L617.3,1072.5 L618.5,1069.8 L619.7,1067.0 L620.8,1064.3 L622.0,1061.5 L623.2,1058.8 L624.3,1056.1 L625.5,1053.3 L626.7,1050.6 L627.9,1047.9 L629.0,1045.1 L630.2,1042.4 L631.4,1039.6 L632.6,1036.9 L633.8,1034.2 L635.0,1031.4 L636.1,1028.7 L637.3,1025.9 L638.5,1023.2 L639.7,1020.5 L640.9,1017.7 L642.1,1015.0 L643.3,1012.3 L644.5,1009.5 L645.7,1006.8 L646.9,1004.0 L648.1,1001.3 L649.3,998.6 L650.5,995.8 L651.7,993.1 L652.9,990.3 L654.1,987.6 L655.3,984.9 L656.5,982.1 L657.7,979.4 L658.9,976.7 L660.1,973.9 L661.3,971.2 L662.5,968.4 L663.8,965.7 L665.0,963.0 L666.2,960.2 L667.4,957.5 L668.6,954.8 L669.9,952.0 L671.1,949.3 L672.3,946.6 L673.5,943.8 L674.8,941.1 L676.0,938.4 L677.2,935.6 L678.5,932.9 L679.7,930.2 L680.9,927.4 L682.2,924.7 L683.4,922.0 L684.7,919.2 L685.9,916.5 L687.2,913.8 L688.4,911.0 L689.7,908.3 L690.9,905.6 L692.2,902.8 L693.4,900.1 L694.7,897.4 L695.9,894.7 L697.2,891.9 L698.4,889.2 L699.7,886.5 L701.0,883.8 L702.2,881.0 L703.5,878.3 L704.8,875.6 L706.0,872.9 L707.3,870.1 L708.6,867.4 L709.8,864.7 L711.1,862.0 L712.4,859.2 L713.7,856.5 L714.9,853.8 L716.2,851.1 L717.5,848.4 L718.8,845.6 L720.1,842.9 L721.4,840.2 L722.6,837.5 L723.9,834.8 L725.2,832.1 L726.5,829.3 L727.8,826.6 L729.1,823.9 L730.4,821.2 L731.7,818.5 L733.0,815.8 L734.3,813.1 L735.6,810.4 L736.9,807.6 L738.2,804.9 L739.5,802.2 L740.8,799.5 L742.2,796.8 L743.5,794.1 L744.8,791.4 L746.1,788.7 L747.4,786.0 L748.7,783.3 L750.1,780.6 L751.4,777.9 L752.7,775.2 L754.0,772.5 L755.4,769.8 L756.7,767.1 L758.0,764.4 L759.4,761.7 L760.7,759.0 L762.0,756.3 L763.4,753.6 L764.7,750.9 L766.0,748.2 L767.4,745.6 L768.7,742.9 L770.1,740.2 L771.4,737.5 L772.8,734.8 L774.1,732.1 L775.5,729.4 L776.8,726.7 L778.2,724.1 L779.5,721.4 L780.9,718.7 L782.3,716.0 L783.6,713.3 L785.0,710.7 L786.3,708.0 L787.7,705.3 L789.1,702.6 L790.4,700.0 L791.8,697.3 L793.2,694.6 L794.6,691.9 L795.9,689.3 L797.3,686.6 L798.7,683.9 L800.1,681.3 L801.5,678.6 L802.8,676.0 L804.2,673.3 L805.6,670.6 L807.0,668.0 L808.4,665.3 L809.8,662.7 L811.2,660.0 L812.6,657.3 L814.0,654.7 L815.4,652.0 L816.8,649.4 L818.2,646.7 L819.6,644.1 L821.0,641.4 L822.4,638.8 L823.8,636.1 L825.2,633.5 L826.6,630.9 L828.0,628.2 L829.5,625.6 L830.9,622.9 L832.3,620.3 L833.7,617.7 L835.1,615.0 L836.6,612.4 L838.0,609.8 L839.4,607.1 L840.8,604.5 L842.3,601.9 L843.7,599.3 L845.1,596.6 L846.6,594.0 L848.0,591.4 L849.5,588.8 L850.9,586.1 L852.3,583.5 L853.8,580.9 L855.2,578.3 L856.7,575.7 L858.1,573.1 L859.6,570.5 L861.0,567.9 L862.5,565.3 L863.9,562.6 L865.4,560.0 L866.9,557.4 L868.3,554.8 L869.8,552.2 L871.2,549.6 L872.7,547.0 L874.2,544.5 L875.6,541.9 L877.1,539.3 L878.6,536.7 L880.1,534.1 L881.5,531.5 L883.0,528.9 L884.5,526.3 L886.0,523.8 L887.5,521.2 L888.9,518.6 L890.4,516.0 L891.9,513.4 L893.4,510.9 L894.9,508.3 L896.4,505.7 L897.9,503.2 L899.4,500.6 L900.9,498.1 L902.4,495.5 L903.9,492.9 L905.5,490.4 L907.0,487.8 L908.5,485.3 L910.0,482.8 L911.6,480.2 L913.1,477.7 L914.6,475.2 L916.2,472.6 L917.7,470.1 L919.3,467.6 L920.9,465.1 L922.4,462.6 L924.0,460.1 L925.6,457.6 L927.2,455.1 L928.8,452.6 L930.4,450.1 L932.0,447.6 L933.6,445.2 L935.2,442.7 L936.8,440.2 L938.5,437.8 L940.1,435.3 L941.7,432.9 L943.4,430.5 L945.1,428.0 L946.7,425.6 L948.4,423.2 L950.1,420.8 L951.8,418.4 L953.5,416.0 L955.2,413.6 L957.0,411.2 L958.7,408.8 L960.5,406.5 L962.2,404.1 L964.0,401.8 L965.8,399.4 L967.5,397.1 L969.3,394.8 L971.2,392.4 L973.0,390.1 L974.8,387.8 L976.6,385.5 L978.5,383.3 L980.4,381.0 L982.2,378.7 L984.1,376.5 L986.0,374.2 L987.9,372.0 L989.9,369.7 L991.8,367.5 L993.8,365.3 L995.7,363.1 L997.7,360.9 L999.7,358.8 L1001.7,356.6 L1003.7,354.4 L1005.7,352.3 L1007.8,350.2 L1009.9,348.0 L1011.9,345.9 L1014.0,343.8 L1016.1,341.7 L1018.2,339.6 L1020.4,337.6 L1022.5,335.5 L1024.7,333.5 L1026.9,331.4 L1029.1,329.4 L1031.3,327.4 L1033.5,325.4 L1035.8,323.4 L1038.0,321.5 L1040.3,319.5 L1042.6,317.6 L1044.9,315.7 L1047.3,313.9 L1049.6,312.0 L1052.0,310.2 L1054.4,308.5 L1056.8,306.8 L1059.2,305.1 L1061.7,303.5 L1064.1,301.9 L1066.6,300.4 L1069.1,299.0 L1071.7,297.6 L1074.2,296.2 L1076.8,295.0 L1079.4,293.8 L1082.0,292.7 L1084.7,291.6 L1087.4,290.7 L1090.1,289.8 L1092.8,289.0 L1095.5,288.3 L1098.3,287.7 L1101.1,287.2 L1103.9,286.8 L1106.8,286.4 L1109.7,286.2 L1112.6,286.1 L1115.5,286.1 L1118.4,286.3 L1121.4,286.5 L1124.4,286.9 L1127.5,287.4 L1130.6,288.0 L1133.7,288.7 L1136.8,289.6" stroke="#6F72B0"/>
<path d="M536.5,1252.5 L538.7,1250.4 L540.9,1248.4 L543.1,1246.3 L545.2,1244.3 L547.4,1242.2 L549.6,1240.1 L551.8,1238.1 L553.9,1236.0 L556.1,1233.9 L558.3,1231.9 L560.4,1229.8 L562.6,1227.7 L564.7,1225.6 L566.9,1223.5 L569.1,1221.5 L571.2,1219.4 L573.4,1217.3 L575.5,1215.2 L577.6,1213.1 L579.8,1211.0 L581.9,1208.9 L584.1,1206.8 L586.2,1204.7 L588.3,1202.6 L590.4,1200.5 L592.6,1198.4 L594.7,1196.3 L596.8,1194.2 L598.9,1192.1 L601.0,1190.0 L603.2,1187.9 L605.3,1185.7 L607.4,1183.6 L609.5,1181.5 L611.6,1179.4 L613.7,1177.3 L615.8,1175.1 L617.9,1173.0 L620.0,1170.9 L622.1,1168.7 L624.2,1166.6 L626.3,1164.5 L628.4,1162.3 L630.5,1160.2 L632.6,1158.1 L634.6,1155.9 L636.7,1153.8 L638.8,1151.7 L640.9,1149.5 L643.0,1147.4 L645.0,1145.2 L647.1,1143.1 L649.2,1140.9 L651.3,1138.8 L653.3,1136.6 L655.4,1134.5 L657.5,1132.3 L659.5,1130.2 L661.6,1128.0 L663.6,1125.8 L665.7,1123.7 L667.8,1121.5 L669.8,1119.4 L671.9,1117.2 L673.9,1115.0 L676.0,1112.9 L678.0,1110.7 L680.1,1108.5 L682.1,1106.3 L684.2,1104.2 L686.2,1102.0 L688.3,1099.8 L690.3,1097.7 L692.3,1095.5 L694.4,1093.3 L696.4,1091.1 L698.5,1088.9 L700.5,1086.8 L702.5,1084.6 L704.6,1082.4 L706.6,1080.2 L708.6,1078.0 L710.7,1075.9 L712.7,1073.7 L714.7,1071.5 L716.8,1069.3 L718.8,1067.1 L720.8,1064.9 L722.8,1062.7 L724.9,1060.5 L726.9,1058.3 L728.9,1056.1 L730.9,1054.0 L732.9,1051.8 L735.0,1049.6 L737.0,1047.4 L739.0,1045.2 L741.0,1043.0 L743.0,1040.8 L745.0,1038.6 L747.1,1036.4 L749.1,1034.2 L751.1,1032.0 L753.1,1029.8 L755.1,1027.6 L757.1,1025.4 L759.1,1023.2 L761.2,1021.0 L763.2,1018.8 L765.2,1016.6 L767.2,1014.4 L769.2,1012.2 L771.2,1009.9 L773.2,1007.7 L775.2,1005.5 L777.2,1003.3 L779.2,1001.1 L781.2,998.9 L783.2,996.7 L785.2,994.5 L787.3,992.3 L789.3,990.1 L791.3,987.9 L793.3,985.7 L795.3,983.4 L797.3,981.2 L799.3,979.0 L801.3,976.8 L803.3,974.6 L805.3,972.4 L807.3,970.2 L809.3,968.0 L811.3,965.8 L813.3,963.5 L815.3,961.3 L817.3,959.1 L819.3,956.9 L821.3,954.7 L823.3,952.5 L825.3,950.3 L827.3,948.1 L829.3,945.8 L831.4,943.6 L833.4,941.4 L835.4,939.2 L837.4,937.0 L839.4,934.8 L841.4,932.6 L843.4,930.3 L845.4,928.1 L847.4,925.9 L849.4,923.7 L851.4,921.5 L853.4,919.3 L855.4,917.1 L857.4,914.9 L859.5,912.7 L861.5,910.4 L863.5,908.2 L865.5,906.0 L867.5,903.8 L869.5,901.6 L871.5,899.4 L873.5,897.2 L875.6,895.0 L877.6,892.8 L879.6,890.6 L881.6,888.4 L883.6,886.1 L885.6,883.9 L887.7,881.7 L889.7,879.5 L891.7,877.3 L893.7,875.1 L895.7,872.9 L897.8,870.7 L899.8,868.5 L901.8,866.3 L903.8,864.1 L905.9,861.9 L907.9,859.7 L909.9,857.5 L912.0,855.3 L914.0,853.1 L916.0,850.9 L918.1,848.7 L920.1,846.5 L922.2,844.4 L924.2,842.2 L926.2,840.0 L928.3,837.8 L930.3,835.6 L932.4,833.4 L934.4,831.3 L936.5,829.1 L938.6,826.9 L940.6,824.7 L942.7,822.6 L944.8,820.4 L946.8,818.2 L948.9,816.1 L951.0,813.9 L953.1,811.8 L955.1,809.6 L957.2,807.5 L959.3,805.3 L961.4,803.2 L963.5,801.0 L965.6,798.9 L967.7,796.7 L969.8,794.6 L971.9,792.5 L974.0,790.4 L976.1,788.2 L978.3,786.1 L980.4,784.0 L982.5,781.9 L984.6,779.8 L986.8,777.7 L988.9,775.6 L991.1,773.5 L993.2,771.4 L995.4,769.3 L997.5,767.2 L999.7,765.1 L1001.9,763.1 L1004.0,761.0 L1006.2,758.9 L1008.4,756.9 L1010.6,754.8 L1012.8,752.8 L1015.0,750.7 L1017.2,748.7 L1019.4,746.6 L1021.6,744.6 L1023.8,742.6 L1026.0,740.6 L1028.3,738.5 L1030.5,736.5 L1032.7,734.5 L1035.0,732.5 L1037.2,730.5 L1039.5,728.5 L1041.7,726.6 L1044.0,724.6 L1046.3,722.6 L1048.6,720.7 L1050.9,718.7 L1053.1,716.7 L1055.4,714.8 L1057.8,712.8 L1060.1,710.9 L1062.4,709.0 L1064.7,707.1 L1067.0,705.1 L1069.4,703.2 L1071.7,701.3 L1074.1,699.5 L1076.5,697.6 L1078.8,695.7 L1081.2,693.9 L1083.6,692.0 L1086.0,690.2 L1088.4,688.4 L1090.8,686.6 L1093.2,684.8 L1095.6,683.0 L1098.1,681.3 L1100.5,679.5 L1103.0,677.8 L1105.4,676.1 L1107.9,674.4 L1110.4,672.7 L1112.9,671.1 L1115.4,669.4 L1117.9,667.8 L1120.4,666.2 L1122.9,664.7 L1125.5,663.1 L1128.0,661.6 L1130.6,660.1 L1133.1,658.6 L1135.7,657.2 L1138.3,655.8 L1140.9,654.4 L1143.5,653.0 L1146.1,651.6 L1148.8,650.3 L1151.4,649.0 L1154.1,647.8 L1156.7,646.5 L1159.4,645.3 L1162.1,644.1 L1164.8,642.9 L1167.5,641.8 L1170.2,640.7 L1173.0,639.6 L1175.7,638.6 L1178.4,637.5 L1181.2,636.5 L1184.0,635.5 L1186.7,634.6 L1189.5,633.7 L1192.3,632.8 L1195.1,631.9 L1198.0,631.1 L1200.8,630.3 L1203.6,629.5 L1206.5,628.7 L1209.3,628.0 L1212.2,627.3 L1215.1,626.6 L1217.9,626.0 L1220.8,625.4 L1223.7,624.8 L1226.7,624.2 L1229.6,623.7 L1232.5,623.2 L1235.4,622.7 L1238.4,622.3 L1241.4,621.9 L1244.3,621.5 L1247.3,621.1 L1250.3,620.8 L1253.3,620.5 L1256.3,620.2 L1259.3,620.0 L1262.3,619.8 L1265.3,619.6 L1268.4,619.5 L1271.4,619.3 L1274.4,619.3 L1277.5,619.2 L1280.6,619.2 L1283.7,619.2 L1286.7,619.2 L1289.8,619.2 L1292.9,619.3 L1296.0,619.5 L1299.1,619.6 L1302.3,619.8 L1305.4,620.0" stroke="#E1CEE9"/>
</g>
<text x="0" y="0" font-size="89.00" text-anchor="end" transform="translate(497.65 1280.80) scale(1 1.040)" >0.0</text>
<text x="0" y="0" font-size="89.0" text-anchor="end" transform="translate(496.61 1079.90) scale(1 1.040)">3.0x10<tspan dy="-35.10" font-size="59.5">6</tspan></text>
<text x="0" y="0" font-size="89.0" text-anchor="end" transform="translate(496.61 872.50) scale(1 1.040)">6.0x10<tspan dy="-35.10" font-size="59.5">6</tspan></text>
<text x="0" y="0" font-size="89.0" text-anchor="end" transform="translate(496.61 665.90) scale(1 1.040)">9.0x10<tspan dy="-35.10" font-size="59.5">6</tspan></text>
<text x="0" y="0" font-size="89.0" text-anchor="end" transform="translate(496.61 456.70) scale(1 1.040)">1.2x10<tspan dy="-35.10" font-size="59.5">7</tspan></text>
<text x="0" y="0" font-size="89.0" text-anchor="end" transform="translate(496.61 250.90) scale(1 1.040)">1.5x10<tspan dy="-35.10" font-size="59.5">7</tspan></text>
<text x="0" y="0" font-size="100.00" text-anchor="middle" transform="translate(536.50 1370.60) scale(1 1.020)" >0.0</text>
<text x="0" y="0" font-size="100.00" text-anchor="middle" transform="translate(802.85 1370.60) scale(1 1.020)" >0.5</text>
<text x="0" y="0" font-size="100.00" text-anchor="middle" transform="translate(1069.20 1370.60) scale(1 1.020)" >1.0</text>
<text x="0" y="0" font-size="100.00" text-anchor="middle" transform="translate(1335.55 1370.60) scale(1 1.020)" >1.5</text>
<text x="0" y="0" font-size="100.00" text-anchor="middle" transform="translate(1601.90 1370.60) scale(1 1.020)" >2.0</text>
<text x="0" y="0" font-size="100.00" text-anchor="middle" transform="translate(1868.25 1370.60) scale(1 1.020)" >2.5</text>
<text x="0" y="0" font-size="100.50" text-anchor="start" transform="translate(1035.50 1527.20) scale(1 1.020)" >Strain (%)</text>
<text x="0" y="0" font-size="100" transform="translate(115.5 900.6) rotate(-90) scale(1 1.04)">Stress (Pa)</text>
<rect x="1508.5" y="29.2" width="517" height="646.5" fill="none" stroke="#000" stroke-width="2.4"/>
<line x1="1519" y1="88.3" x2="1712" y2="88.3" stroke="#7B3A38" stroke-width="13" stroke-linecap="round"/>
<text x="0" y="0" font-size="86.60" text-anchor="start" transform="translate(1735.51 118.75) scale(1 1.020)" >MB013</text>
<line x1="1519" y1="193.9" x2="1712" y2="193.9" stroke="#F6CE1E" stroke-width="13" stroke-linecap="round"/>
<text x="0" y="0" font-size="86.60" text-anchor="start" transform="translate(1735.51 224.35) scale(1 1.020)" >MB014</text>
<line x1="1519" y1="299.5" x2="1712" y2="299.5" stroke="#A0CF9E" stroke-width="13" stroke-linecap="round"/>
<text x="0" y="0" font-size="86.60" text-anchor="start" transform="translate(1735.51 329.95) scale(1 1.020)" >MB015</text>
<line x1="1519" y1="405.1" x2="1712" y2="405.1" stroke="#00AFE8" stroke-width="13" stroke-linecap="round"/>
<text x="0" y="0" font-size="86.60" text-anchor="start" transform="translate(1735.51 435.55) scale(1 1.020)" >MB016</text>
<line x1="1519" y1="510.7" x2="1712" y2="510.7" stroke="#6F72B0" stroke-width="13" stroke-linecap="round"/>
<text x="0" y="0" font-size="86.60" text-anchor="start" transform="translate(1735.51 541.15) scale(1 1.020)" >MB017</text>
<line x1="1519" y1="616.3" x2="1712" y2="616.3" stroke="#E1CEE9" stroke-width="13" stroke-linecap="round"/>
<text x="0" y="0" font-size="86.60" text-anchor="start" transform="translate(1735.51 646.75) scale(1 1.020)" >MB018</text>
</svg>
</body></html>
